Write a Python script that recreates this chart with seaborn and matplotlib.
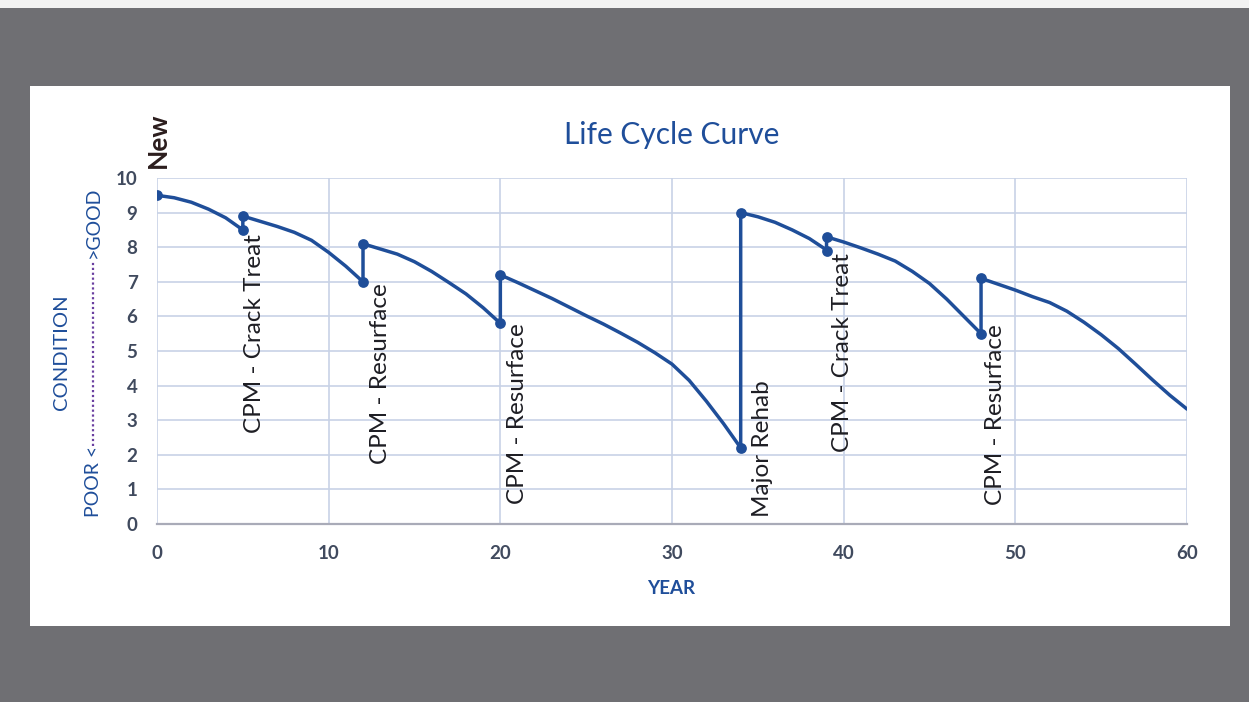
import matplotlib
matplotlib.use("Agg")
import matplotlib.pyplot as plt
import seaborn as sns
from matplotlib.patches import Rectangle
from matplotlib.lines import Line2D

# condition, year by year, with the jumps at each treatment
curve_year = [0, 1, 2, 3, 4, 5,
              5, 6, 7, 8, 9, 10, 11, 12,
              12, 13, 14, 15, 16, 17, 18, 19, 20,
              20, 21, 22, 23, 24, 25, 26, 27, 28, 29, 30, 31, 32, 33, 34,
              34, 35, 36, 37, 38, 39,
              39, 40, 41, 42, 43, 44, 45, 46, 47, 48,
              48, 49, 50, 51, 52, 53, 54, 55, 56, 57, 58, 59, 60]
curve_condition = [9.5, 9.43, 9.3, 9.1, 8.85, 8.5,
                   8.9, 8.75, 8.6, 8.43, 8.2, 7.85, 7.45, 7.0,
                   8.1, 7.95, 7.8, 7.58, 7.3, 6.98, 6.65, 6.25, 5.8,
                   7.2, 6.98, 6.75, 6.52, 6.27, 6.02, 5.78, 5.52, 5.25, 4.95, 4.62, 4.15, 3.55, 2.9, 2.2,
                   9.0, 8.88, 8.72, 8.5, 8.25, 7.92,
                   8.3, 8.15, 7.98, 7.8, 7.6, 7.3, 6.95, 6.5, 6.0, 5.5,
                   7.1, 6.93, 6.76, 6.57, 6.4, 6.15, 5.83, 5.47, 5.07, 4.62, 4.16, 3.72, 3.32]

# points with markers
event_year = [0, 5, 5, 12, 12, 20, 20, 34, 34, 39, 39, 48, 48]
event_condition = [9.5, 8.5, 8.9, 7.0, 8.1, 5.8, 7.2, 2.2, 9.0, 7.9, 8.3, 5.5, 7.1]

treatment_labels = ["CPM - Crack Treat", "CPM - Resurface", "CPM - Resurface",
                    "Major Rehab", "CPM - Crack Treat", "CPM - Resurface"]
# label centres (year, condition) as placed on the chart
label_pos = [(5.69, 5.49), (13.02, 4.34), (20.97, 3.2),
             (35.26, 2.17), (39.93, 4.96), (48.86, 3.15)]

blue = "#1f4e99"
title_blue = "#1f4e9a"
tick_col = "#404a5e"

sns.set_style("white")
plt.rcParams["font.family"] = ["Lato", "DejaVu Sans"]

fig = plt.figure(figsize=(12.49, 7.02), dpi=100)
fig.patch.set_facecolor("#6f6f73")
fig.patches.append(Rectangle((0.024, 0.108), 0.961, 0.7695, transform=fig.transFigure,
                             facecolor="white", edgecolor="none", zorder=-10))
fig.patches.append(Rectangle((0, 0.988), 1, 0.012, transform=fig.transFigure,
                             facecolor="#f2f2f2", edgecolor="none", zorder=-10))

ax = fig.add_axes([0.1257, 0.2536, 0.8247, 0.4928])
ax.set_facecolor("white")

sns.lineplot(x=curve_year, y=curve_condition, sort=False, estimator=None,
             color=blue, linewidth=2.5, ax=ax, zorder=3)
sns.scatterplot(x=event_year, y=event_condition, color=blue, s=60,
                edgecolor=blue, linewidth=0, ax=ax, zorder=4)

ax.set_xlim(0, 60)
ax.set_ylim(0, 10)
ax.set_xticks(range(0, 61, 10))
ax.set_yticks(range(0, 11))
ax.grid(True, color="#c8d2e6", linewidth=1.2)
ax.set_axisbelow(True)
for s in ["top", "right", "left"]:
    ax.spines[s].set_visible(False)
ax.spines["bottom"].set_color("#a9abb8")
ax.spines["bottom"].set_linewidth(1.6)
ax.tick_params(axis="both", length=0, labelsize=13.5, labelcolor=tick_col)
ax.tick_params(axis="x", pad=15)
ax.tick_params(axis="y", pad=14)
for lab in ax.get_xticklabels() + ax.get_yticklabels():
    lab.set_fontweight("bold")

for txt, (xx, yy) in zip(treatment_labels, label_pos):
    ax.text(xx, yy, txt, rotation=90, ha="center", va="center",
            fontsize=17.5, color="#1e1e24", zorder=5)
ax.text(0.06, 10.3, "New", rotation=90, ha="center", va="bottom",
        fontsize=19, fontweight="bold", color="#2b1d1d", clip_on=False)

fig.text(0.5377, 0.807, "Life Cycle Curve", ha="center", va="center",
         fontsize=21.5, color=title_blue)
fig.text(0.537, 0.161, "YEAR", ha="center", va="center",
         fontsize=13.5, fontweight="bold", color=title_blue)

# y axis label: POOR <......>GOOD and CONDITION
fig.text(0.0495, 0.499, "CONDITION", rotation=90, ha="center", va="center",
         fontsize=14.5, color=title_blue)
fig.text(0.0745, (702 - 517) / 702, "POOR <", rotation=90, ha="center", va="bottom",
         fontsize=14, color=title_blue)
fig.text(0.0745, (702 - 187) / 702, ">GOOD", rotation=90, ha="center", va="top",
         fontsize=14, color=title_blue)
fig.lines.append(Line2D([0.0745, 0.0745], [(702 - 446) / 702, (702 - 262) / 702],
                        transform=fig.transFigure, color="#6a3fa0",
                        linestyle=(0, (1, 1.2)), linewidth=1.6))

fig.savefig("out.png", dpi=100, facecolor=fig.get_facecolor())
